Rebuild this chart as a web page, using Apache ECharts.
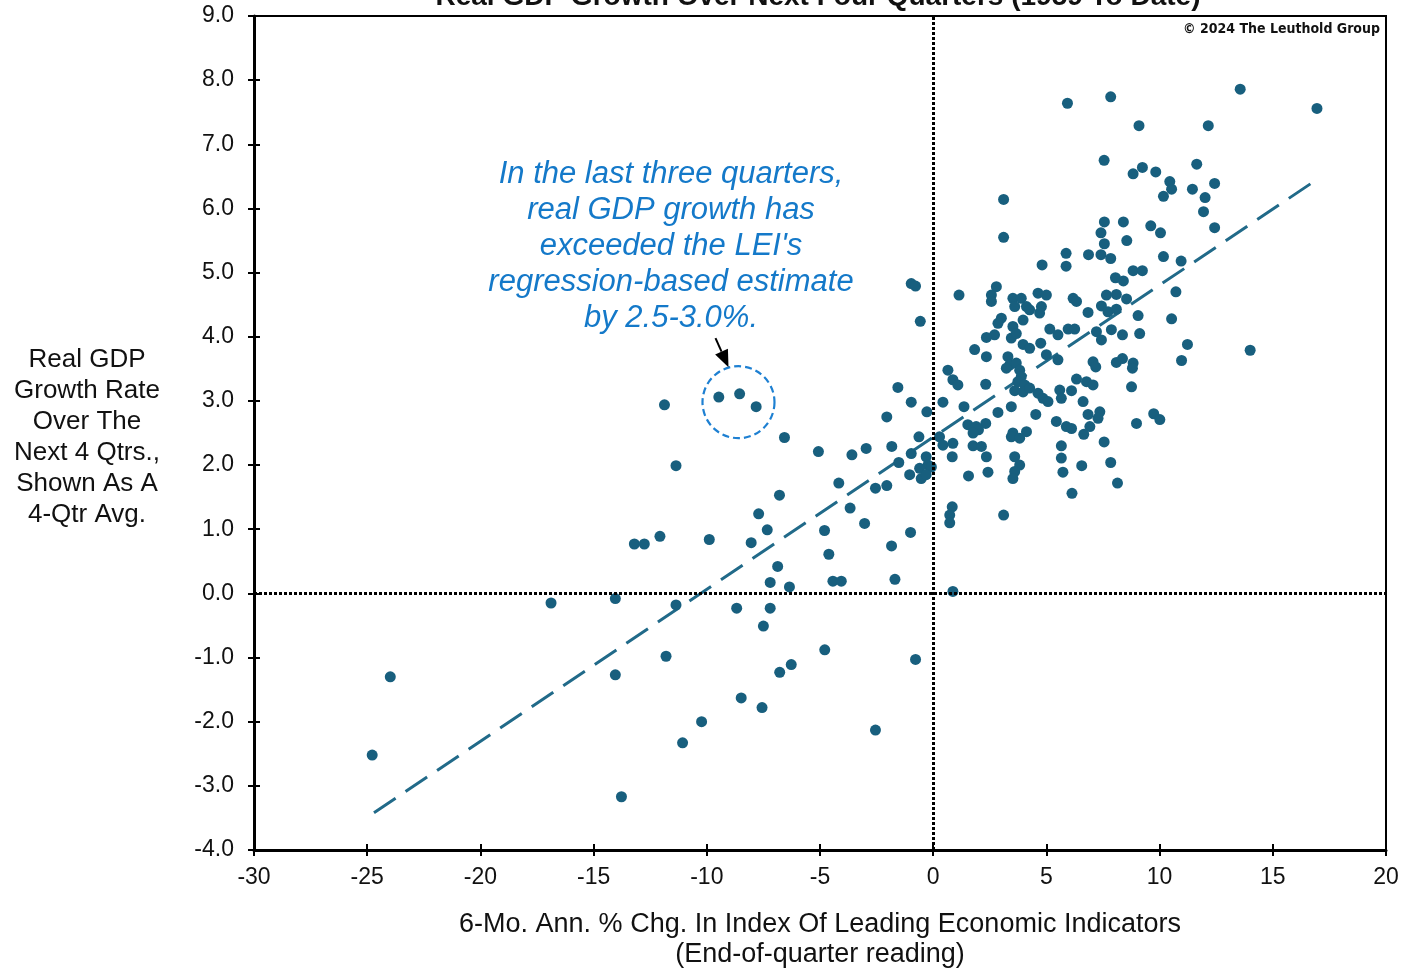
<!DOCTYPE html>
<html>
<head>
<meta charset="utf-8">
<script src="https://cdn.jsdelivr.net/npm/echarts@6/dist/echarts.min.js"></script>
<style>
  html, body { margin: 0; padding: 0; background: #fff; }
  #chart { width: 1404px; height: 970px; }
</style>
</head>
<body>
<div id="chart"></div>
<script>
// 6-mo. ann. % chg. in LEI (x) / next 4 qtrs real GDP growth (y)
const lei = [
  1.14, 3.11, 3.11, 5.93, 7.84, 9.09, 13.56, 16.95, 12.15, 7.55,
  8.83, 9.24, 9.83, 10.45, 10.53, 10.17, 11.64, 11.45, 12.01, 12.43,
  11.94, 12.43, 7.56, 7.41, 7.56, 8.40, 8.55, 9.61, 10.04, 5.87,
  5.87, 6.86, 7.41, 7.84, 10.17, 10.95, 4.81, 8.83, 9.24, 8.05,
  8.40, 10.72, 2.79, 2.57, 3.52, 3.89, 4.63, 5.00, 6.18, 7.65,
  8.09, 8.54, -0.97, -0.78, -0.57,
  2.57, 3.60, 4.12, 4.78, 4.70, 4.26, 6.33, 6.84, 7.43, 7.72,
  8.09, 9.05, 10.53, 3.01, 2.86, 2.71, 2.35, 3.52, 3.45, 3.67,
  3.97, 5.15, 5.51, 5.96, 6.25, 7.21, 7.43, 7.87, 8.36, 9.12,
  11.23, 10.97, 14.00, 1.83, 2.35, 2.32, 3.97, 4.26, 4.75, 5.00,
  5.51, 3.30, 3.38, 3.67, 3.23, 3.82, 3.89, 3.74, 4.04, 7.06,
  7.18, 8.09, 8.36, 8.83, 8.80, 8.76, 3.60, 3.97, 4.26, 4.63,
  4.85, 5.07, 5.59, 5.66, 6.11, 6.33, 6.77, 7.06, 6.62, 3.45,
  2.86, 4.53, 6.84, 7.36, 7.28, 8.98, 9.74, 10.01, 2.32, 5.44,
  5.88, 6.11, 3.52, 4.12, 6.65, 6.92, 7.55, 7.84, 8.14, 6.56,
  6.13, 5.66, 5.66, 5.73, 0.65, 0.87, 1.09, 0.43, 1.36, 1.53,
  1.90, 2.00, 1.76, 0.28, 0.43, 0.87, 0.84, 1.76, 2.13, 2.35,
  1.56, 2.42, 3.45, 3.82, 3.60, 3.82, 3.60, 3.52, 3.11, 0.84,
  0.73, 0.73, 0.87,
  -1.56, -0.97, -0.28, -2.05, -6.57, -0.63, -5.07, -3.59, -2.96, -1.83,
  -0.97, -0.31, -1.52, -0.23, -1.04, -0.53, -0.08, -0.60, -0.31, -4.17,
  -2.55, -2.05, -6.79, -3.67, -3.03, -4.80, -1.00, -11.87, -9.47, -8.55,
  -7.82, -11.36, -7.71, -7.33, -8.04, -13.20, -12.76, -12.07, -9.89, -6.87,
  -7.20, -6.35, -16.88, -14.04, -11.36, -4.61, -1.84, -4.43, -4.06, -1.69,
  -8.68, -7.20, -7.50, -11.80, -14.04, -4.79, -6.27, -6.78, -0.78, -8.48,
  -7.56, -10.23, -11.07, -2.55, -24.78, -23.98, -13.77
];
const gdp = [
  4.65, 6.14, 5.55, 7.64, 7.74, 7.29, 7.86, 7.56, 7.29, 6.75,
  6.54, 6.64, 6.57, 6.42, 6.30, 6.19, 6.69, 6.30, 6.17, 6.39,
  5.95, 5.70, 5.79, 5.62, 5.45, 5.79, 5.50, 5.73, 5.62, 5.30,
  5.10, 5.28, 5.28, 5.22, 5.25, 5.18, 5.12, 5.03, 5.03, 4.92,
  4.87, 4.70, 4.78, 4.65, 4.60, 4.60, 4.68, 4.65, 4.60, 4.65,
  4.66, 4.59, 4.83, 4.79, 4.24,
  4.55, 4.47, 4.47, 4.47, 4.37, 4.42, 4.55, 4.38, 4.48, 4.39,
  4.43, 4.33, 4.28, 4.29, 4.21, 4.03, 3.99, 4.16, 3.98, 4.05,
  4.26, 4.12, 4.03, 4.12, 4.12, 4.08, 3.95, 4.11, 4.03, 4.05,
  3.88, 3.63, 3.79, 3.80, 3.69, 3.26, 3.88, 3.82, 3.90, 3.72,
  3.64, 3.69, 3.56, 3.59, 3.51, 3.48, 3.38, 3.30, 3.25, 3.61,
  3.53, 3.60, 3.66, 3.59, 3.51, 3.22, 3.16, 3.14, 3.20, 3.12,
  3.04, 2.99, 3.17, 3.04, 3.16, 3.34, 3.30, 3.25, 2.99, 2.91,
  2.82, 2.79, 2.79, 2.83, 2.73, 2.65, 2.80, 2.71, 2.65, 2.68,
  2.60, 2.57, 2.50, 2.52, 2.48, 2.60, 2.36, 2.04, 1.72, 1.99,
  1.56, 2.30, 2.11, 1.89, 3.48, 3.33, 3.25, 2.98, 2.91, 2.63,
  2.60, 2.55, 2.50, 2.44, 2.31, 2.34, 2.13, 2.30, 2.29, 2.13,
  1.83, 1.89, 2.44, 2.42, 2.13, 2.00, 1.90, 1.79, 1.22, 1.35,
  1.22, 1.10, 0.03,
  3.21, 2.98, 2.83, 2.75, 2.43, 2.44, 2.21, 2.16, 2.26, 2.29,
  2.18, 2.13, 2.04, 2.00, 1.85, 1.79, 1.97, 1.95, 1.85, 1.72,
  1.64, 1.68, 1.53, 1.33, 1.09, 0.98, 0.95, 2.94, 3.06, 3.11,
  2.91, 1.99, 1.24, 0.99, 0.79, 0.77, 0.77, 0.89, 0.84, 0.42,
  0.17, 0.10, -0.15, -0.08, -0.18, 0.61, 0.74, 0.19, 0.19, 0.22,
  -0.23, -0.23, -0.51, -0.98, -1.27, -0.88, -1.11, -1.23, -1.03, -1.63,
  -1.78, -2.00, -2.33, -2.13, -2.52, -1.30, -3.17
];

// regression line end points
const regX = [-24.7, 16.9];
const regY = [-3.42, 6.44];

// the three circled quarters
const noteCenter = [-8.6, 2.98];

const xTicks = { min: -30, max: 20, interval: 5 };
const yTicks = { min: -4, max: 9, interval: 1 };

const noteLines = [
  "In the last three quarters,",
  "real GDP growth has",
  "exceeded the LEI's",
  "regression-based estimate",
  "by 2.5-3.0%."
];
const yTitleLines = ["Real GDP", "Growth Rate", "Over The", "Next 4 Qtrs.,", "Shown As A", "4-Qtr Avg."];

const FONT = "'Liberation Sans', Arial, sans-serif";
const DOT = "#185f7e";
const NOTE = "#1479c9";

const points = lei.map((x, i) => [x, gdp[i]]);
const regLine = regX.map((x, i) => [x, regY[i]]);

const chart = echarts.init(document.getElementById("chart"));

const tickAxis = (base, pos, inside, showLine) => ({
  type: "value",
  position: pos,
  min: base.min,
  max: base.max,
  interval: base.interval,
  splitLine: { show: false },
  axisLine: { show: showLine, onZero: false, lineStyle: { color: "#000", width: 3 } },
  axisTick: { show: true, inside: inside, length: 6, lineStyle: { color: "#000", width: 2 } }
});

const x0 = tickAxis(xTicks, "bottom", false, true);
x0.axisLabel = { margin: 16, color: "#111", fontSize: 23, fontFamily: FONT };
x0.name = "6-Mo. Ann. % Chg. In Index Of Leading Economic Indicators\n(End-of-quarter reading)";
x0.nameLocation = "middle";
x0.nameGap = 60;
x0.nameTextStyle = { color: "#111", fontSize: 27, fontFamily: FONT, lineHeight: 30, verticalAlign: "top" };
const x1 = tickAxis(xTicks, "bottom", true, false);
x1.axisLabel = { show: false };

const y0 = tickAxis(yTicks, "left", false, true);
y0.axisLabel = { margin: 20, color: "#111", fontSize: 23, fontFamily: FONT, formatter: v => v.toFixed(1) };
const y1 = tickAxis(yTicks, "left", true, false);
y1.axisLabel = { show: false };

chart.setOption({
  animation: false,
  backgroundColor: "#fff",
  grid: {
    left: 254, right: 18, top: 16, bottom: 120,
    outerBoundsMode: "none",
    containLabel: false,
    show: true, borderColor: "#000", borderWidth: 2
  },
  xAxis: [x0, x1],
  yAxis: [y0, y1],
  series: [
    {
      // zero lines
      type: "line",
      data: [],
      z: 1,
      markLine: {
        silent: true,
        symbol: "none",
        label: { show: false },
        lineStyle: { color: "#000", type: [3, 2], width: 3 },
        data: [{ xAxis: 0 }, { yAxis: 0 }]
      }
    },
    {
      type: "line",
      data: regLine,
      z: 2,
      symbol: "none",
      lineStyle: { color: "#216a89", width: 3, type: [26, 12] }
    },
    {
      type: "scatter",
      data: points,
      z: 3,
      symbolSize: 11,
      itemStyle: { color: DOT, opacity: 1 }
    }
  ]
});

// annotation: circle + arrow placed from the data position of the three circled points
const c = chart.convertToPixel({ gridIndex: 0 }, noteCenter);
const tip = [c[0] - 10, c[1] - 35];
const tail = [c[0] - 23, c[1] - 64];
const dx = tip[0] - tail[0], dy = tip[1] - tail[1];
const len = Math.sqrt(dx * dx + dy * dy);
const ux = dx / len, uy = dy / len;
const base = [tip[0] - 17 * ux, tip[1] - 17 * uy];

chart.setOption({
  graphic: [
    {
      id: "title",
      type: "text",
      style: {
        text: "Real GDP Growth Over Next Four Quarters (1959 To Date)",
        x: 818, y: -17,
        align: "center", verticalAlign: "top",
        fill: "#111", font: "bold 28px " + FONT
      }
    },
    {
      id: "copyright",
      type: "text",
      style: {
        text: "© 2024 The Leuthold Group",
        x: 1380, y: 29,
        align: "right", verticalAlign: "middle",
        fill: "#111", font: "bold 14px 'DejaVu Sans Condensed', " + FONT
      }
    },
    {
      id: "ytitle",
      type: "text",
      style: {
        text: yTitleLines.join("\n"),
        x: 87, y: 344,
        align: "center", verticalAlign: "top",
        lineHeight: 31,
        fill: "#111", font: "26px " + FONT
      }
    },
    {
      id: "note",
      type: "text",
      style: {
        text: noteLines.join("\n"),
        x: 671, y: 156,
        align: "center", verticalAlign: "top",
        lineHeight: 36,
        fill: NOTE, font: "italic 31px " + FONT
      }
    },
    {
      id: "ring",
      type: "circle",
      z: 10,
      shape: { cx: c[0], cy: c[1], r: 36 },
      style: { fill: "none", stroke: "#1e80d2", lineWidth: 2.2, lineDash: [7, 4] }
    },
    {
      id: "arrowLine",
      type: "line",
      z: 10,
      shape: { x1: tail[0], y1: tail[1], x2: base[0], y2: base[1] },
      style: { stroke: "#000", lineWidth: 2 }
    },
    {
      id: "arrowHead",
      type: "polygon",
      z: 10,
      shape: {
        points: [
          tip,
          [base[0] - 7 * uy, base[1] + 7 * ux],
          [base[0] + 7 * uy, base[1] - 7 * ux]
        ]
      },
      style: { fill: "#000" }
    }
  ]
});
</script>
</body>
</html>
